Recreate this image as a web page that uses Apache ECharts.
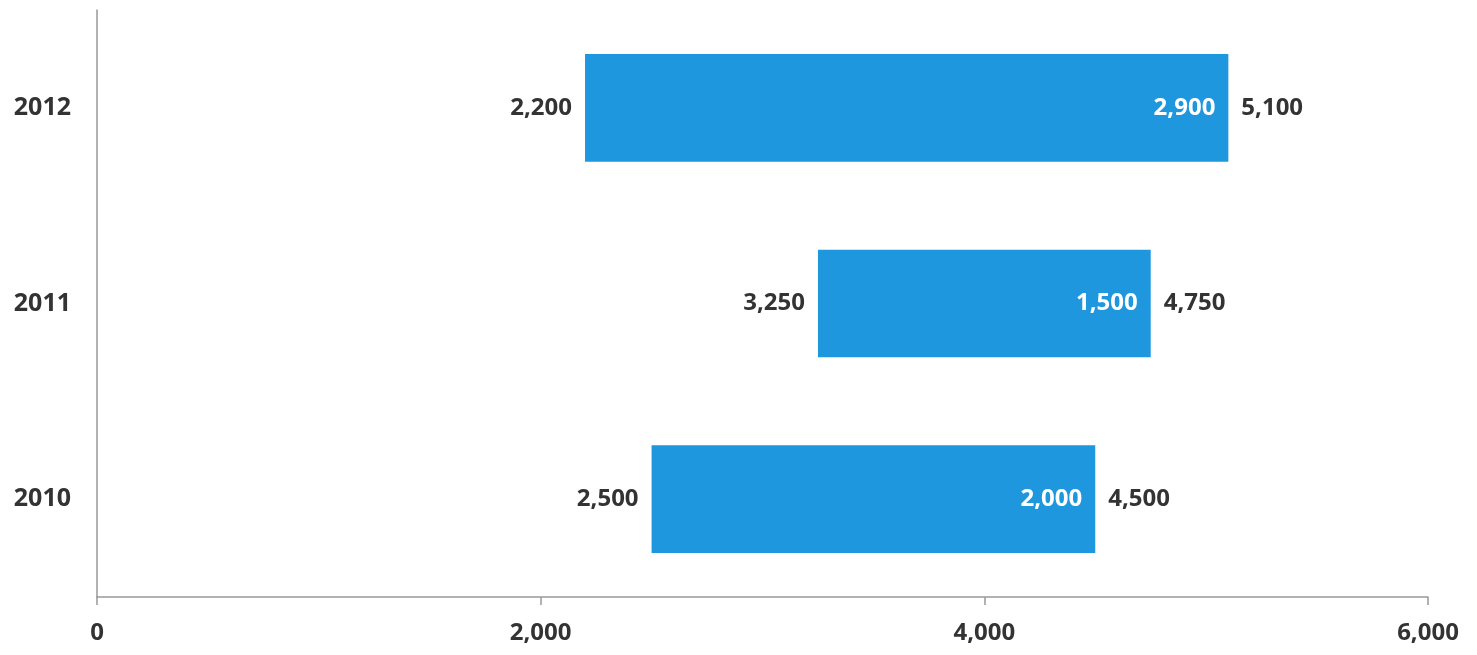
<!DOCTYPE html>
<html>
<head>
<meta charset="utf-8">
<script src="https://cdn.jsdelivr.net/npm/echarts@6/dist/echarts.min.js"></script>
<style>
  html, body { margin: 0; padding: 0; background: #fff; }
  #chart { width: 1477px; height: 655px; }
</style>
</head>
<body>
<div id="chart"></div>
<script>
var years = ['2010', '2011', '2012'];
var startValues = [2500, 3250, 2200];
var lengths = [2000, 1500, 2900];
var endValues = [4500, 4750, 5100];
var xTicks = { min: 0, max: 6000, interval: 2000 };

function fmt(v) {
	return Number(v).toLocaleString('en-US');
}

var labelFont = {
	fontFamily: '"Open Sans", sans-serif',
	fontWeight: 'bold',
	fontSize: 24,
	color: '#333',
	opacity: 1
};

var option = {
	backgroundColor: '#fff',
	animation: false,
	grid: { left: 97, right: 49, top: 10, bottom: 58 },
	xAxis: {
		type: 'value',
		min: xTicks.min,
		max: xTicks.max,
		interval: xTicks.interval,
		axisLine: { show: true, lineStyle: { color: '#999', width: 1.5 } },
		axisTick: { show: true, length: 8, lineStyle: { color: '#999', width: 1.5 } },
		splitLine: { show: false },
		axisLabel: {
			margin: 24,
			fontFamily: '"Open Sans", sans-serif',
			fontWeight: 'bold',
			fontSize: 24,
			color: '#333',
			formatter: fmt
		}
	},
	yAxis: {
		type: 'category',
		data: years,
		axisLine: { show: true, lineStyle: { color: '#999', width: 1.5 } },
		axisTick: { show: false },
		axisLabel: {
			margin: 26,
			fontFamily: '"Open Sans", sans-serif',
			fontWeight: 'bold',
			fontSize: 25,
			color: '#333'
		}
	},
	series: [
		{
			// invisible base so the bar floats
			type: 'bar',
			stack: 'range',
			data: startValues,
			barCategoryGap: '45%',
			itemStyle: { color: 'transparent' },
			silent: true
		},
		{
			type: 'bar',
			stack: 'range',
			data: lengths,
			barCategoryGap: '45%',
			itemStyle: { color: '#1e97df' },
			label: Object.assign({}, labelFont, {
				show: true,
				position: 'insideRight',
				distance: 13,
				color: '#fff',
				formatter: function (p) { return fmt(p.value); }
			})
		},
		{
			// start value labels
			type: 'scatter',
			symbolSize: 0,
			itemStyle: { opacity: 1 },
			data: startValues.map(function (v, i) { return [v, years[i]]; }),
			label: Object.assign({}, labelFont, {
				show: true,
				position: 'left',
				distance: 13,
				formatter: function (p) { return fmt(p.value[0]); }
			})
		},
		{
			// end value labels
			type: 'scatter',
			symbolSize: 0,
			itemStyle: { opacity: 1 },
			data: endValues.map(function (v, i) { return [v, years[i]]; }),
			label: Object.assign({}, labelFont, {
				show: true,
				position: 'right',
				distance: 13,
				formatter: function (p) { return fmt(p.value[0]); }
			})
		}
	]
};

var myChart = echarts.init(document.getElementById('chart'));
myChart.setOption(option);
</script>
</body>
</html>
